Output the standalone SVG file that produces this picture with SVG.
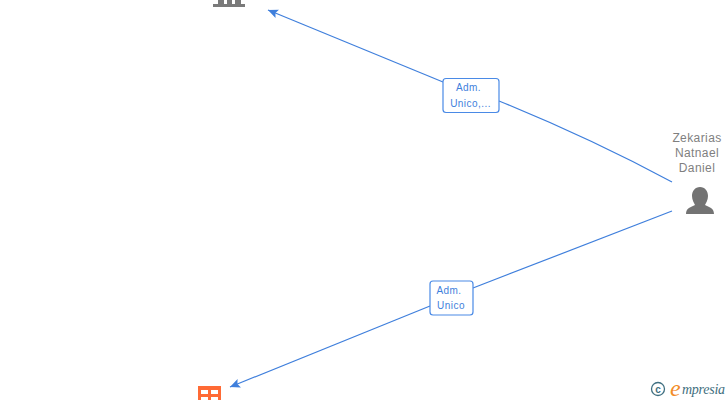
<svg xmlns="http://www.w3.org/2000/svg" width="728" height="400" viewBox="0 0 728 400">
<style>
.edge{fill:none;stroke:#3f7fdc;stroke-width:1.2}
.lbox{fill:#fff;stroke:#4a8ae6;stroke-width:1.2}
.lt{font:10px "Liberation Sans",sans-serif;fill:#3f7fdc;text-anchor:middle;letter-spacing:.45px}
.nt{font:12px "Liberation Sans",sans-serif;fill:#7f7f7f;text-anchor:middle;letter-spacing:.4px}
</style>
<defs>
<marker id="arr" markerUnits="userSpaceOnUse" markerWidth="12" markerHeight="10" refX="10" refY="4.5" orient="auto-start-reverse">
<path d="M10 4.5L0 0L2 4.5L0 9Z" fill="#3f7fdc"/>
</marker>
</defs>
<rect width="728" height="400" fill="#fff"/>
<g id="connectors">
<path class="edge" marker-start="url(#arr)" d="M268 10L443 82"/>
<path class="edge" d="M499 101Q590 138 672 182"/>
<path class="edge" marker-start="url(#arr)" d="M230 387L430 306"/>
<path class="edge" d="M473 288L672 211"/>
</g>
<g id="label-1">
<rect class="lbox" x="443" y="78.500" width="56" height="34" rx="3"/>
<text class="lt" x="468.500" y="91">Adm.</text>
<text class="lt" x="470.500" y="107">Unico,...</text>
</g>
<g id="label-2">
<rect class="lbox" x="430" y="281" width="43" height="34" rx="3"/>
<text class="lt" x="449" y="294">Adm.</text>
<text class="lt" x="451" y="309">Unico</text>
</g>
<g id="node-top">
<path fill="#7a7a7a" d="M218 0H224V4H227V0H232V4H235V0H241V4H245V7H213V4H218Z"/>
</g>
<g id="node-bottom">
<path fill="#ff6a35" fill-rule="evenodd" d="M198 386H221V400H198ZM201 390V394H208V390ZM211 390V394H218V390ZM201 397V400H208V397ZM211 397V400H218V397Z"/>
</g>
<g id="node-person">
<text class="nt" x="697" y="142">Zekarias</text>
<text class="nt" x="697" y="157">Natnael</text>
<text class="nt" x="697" y="172">Daniel</text>
<path fill="#737373" d="M700 187C705 187 708 191 708 196C708 200 706 203 705 205C709 207 714 208 714 214H686C686 208 691 207 695 205C694 203 692 200 692 196C692 191 695 187 700 187Z"/>
</g>
<g id="watermark">
<circle cx="658" cy="389" r="6.500" fill="none" stroke="#3f6f80" stroke-width="1.300"/>
<text x="658" y="392.500" font-family="Liberation Sans, sans-serif" font-size="10" font-weight="bold" fill="#3f6f80" text-anchor="middle">c</text>
<text x="670" y="396" font-family="Liberation Serif, serif" font-style="italic" font-size="24" fill="#f28c28">e</text>
<text x="682" y="394" font-family="Liberation Serif, serif" font-style="italic" font-size="14" fill="#3f6f80" textLength="43">mpresia</text>
</g>
</svg>
